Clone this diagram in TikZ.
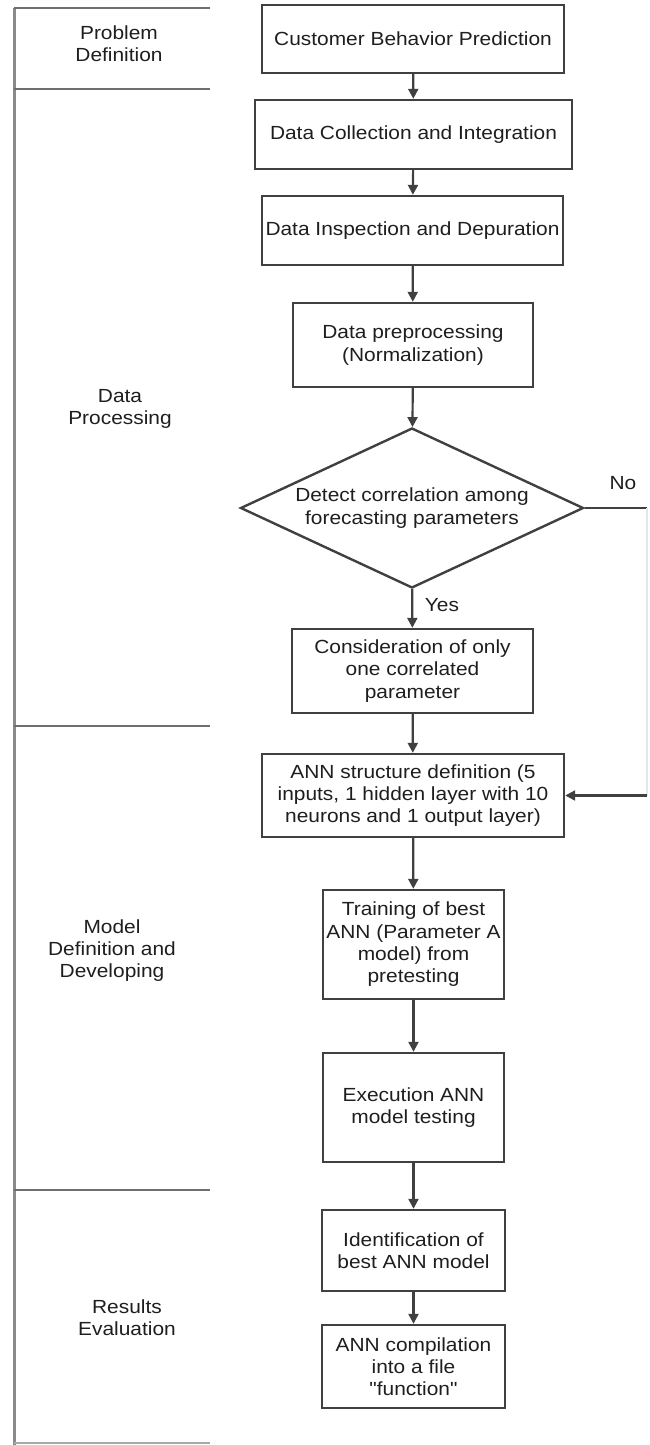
\documentclass[tikz,border=0pt]{standalone}
\usepackage{fontspec}
\setmainfont{Liberation Sans}[FakeStretch=1.1, Ligatures=TeXOff]
\usetikzlibrary{shapes.geometric,arrows.meta}
\definecolor{ink}{HTML}{1E1E1E}
\definecolor{frame}{HTML}{404040}
\definecolor{rule}{HTML}{6E6E6E}
\definecolor{spine}{HTML}{8A8A8A}
\definecolor{faint}{HTML}{E6E6E6}
\begin{document}
\begin{tikzpicture}[x=1pt,y=-1pt,
  every node/.style={font=\fontsize{19}{22.3}\selectfont, text=ink},
  procbox/.style={draw=frame, line width=2.4pt, rectangle, align=center, inner sep=0pt},
  decision/.style={draw=frame, line width=2.4pt, diamond, aspect=2.14, align=center,
    inner sep=0pt, minimum width=343pt, minimum height=160pt},
  link/.style={draw=frame, line width=2.2pt},
  flow/.style={link, -{Triangle[length=10pt,width=10pt]}},
  phase/.style={align=center},
  sep/.style={draw=rule, line width=2.4pt},
]
\useasboundingbox (0,0) rectangle (649,1445);

% phase column: spine and separators
\draw[spine, line width=3pt] (14,8) -- (14,1445);
\draw[sep] (14,8) -- (210,8);
\draw[sep] (14,89) -- (210,89);
\draw[sep] (14,726) -- (210,726);
\draw[sep] (14,1190) -- (210,1190);
\draw[draw=rule!60, line width=2pt] (14,1443) -- (210,1443);

% phase labels
\node[phase] (pdef) at (119,44) {Problem\\Definition};
\node[phase] (pproc) at (120,409) {Data\\Processing};
\node[phase] (pmodel) at (112,950.5) {Model\\Definition and\\Developing};
\node[phase] (peval) at (127,1317.5) {Results\\Evaluation};

% process steps
\node[procbox, minimum width=302pt, minimum height=68pt] (b1) at (413,39) {Customer Behavior Prediction};
\node[procbox, minimum width=317pt, minimum height=69pt] (b2) at (413.5,134.5) {Data Collection and Integration};
\node[procbox, minimum width=301pt, minimum height=69pt] (b3) at (412.5,230.5) {Data Inspection and Depuration};
\node[procbox, minimum width=240pt, minimum height=84pt] (b4) at (413,345) {Data preprocessing\\(Normalization)};
\node[decision] (d1) at (412,508) {Detect correlation among\\forecasting parameters};
\node[procbox, minimum width=241pt, minimum height=84pt] (b5) at (412.5,671) {Consideration of only\\one correlated\\parameter};
\node[procbox, minimum width=302pt, minimum height=83pt] (b6) at (413,795.5) {ANN structure definition (5\\inputs, 1 hidden layer with 10\\neurons and 1 output layer)};
\node[procbox, minimum width=181pt, minimum height=109pt] (b7) at (413.5,944.5) {Training of best\\ANN (Parameter A\\model) from\\pretesting};
\node[procbox, minimum width=181pt, minimum height=109pt] (b8) at (413.5,1107.5) {Execution ANN\\model testing};
\node[procbox, minimum width=183pt, minimum height=81pt] (b9) at (413.5,1250.5) {Identification of\\best ANN model};
\node[procbox, minimum width=183pt, minimum height=83pt] (b10) at (413.5,1366.5) {ANN compilation\\into a file\\"function"};

% branch labels
\node (yes) at (442,605) {Yes};
\node (no) at (623,483) {No};
\coordinate (noturn) at (647,508);
\coordinate (noback) at (noturn |- b6.east);

% connectors
\draw[flow] (b1) -- (b2);
\draw[flow] (b2) -- (b3);
\draw[flow] (b3) -- (b4);
\draw[flow] (b4) -- (d1);
\draw[flow] (d1) -- (b5);
\draw[flow] (b5) -- (b6);
\draw[link] (d1.east) -- (noturn);
\draw[draw=faint, line width=2pt] (noturn) -- (noback);
\draw[flow] (noback) -- (b6.east);
\draw[flow] (b6) -- (b7);
\draw[flow] (b7) -- (b8);
\draw[flow] (b8) -- (b9);
\draw[flow] (b9) -- (b10);
\end{tikzpicture}
\end{document}
